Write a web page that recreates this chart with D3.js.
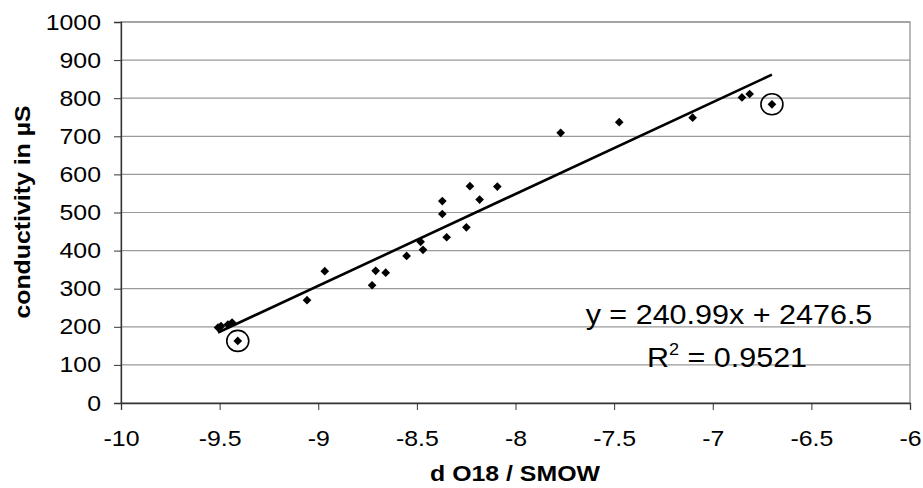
<!DOCTYPE html>
<html>
<head>
<meta charset="utf-8">
<script src="https://cdn.jsdelivr.net/npm/d3@7"></script>
<style>
  html, body { margin: 0; padding: 0; background: #fff; }
  svg { display: block; }
  text { font-family: "Liberation Sans", Arial, sans-serif; fill: #000; }
</style>
</head>
<body>
<svg id="chart" width="923" height="488"></svg>
<script>
// ---- data ----
const xValues = [-9.508, -9.493, -9.458, -9.437, -9.408, -9.057, -8.967, -8.727, -8.709, -8.658,
                 -8.552, -8.481, -8.469, -8.371, -8.371, -8.349, -8.249, -8.231, -8.182, -8.092,
                 -7.771, -7.474, -7.102, -6.852, -6.813, -6.700];
const yValues = [198, 202, 206, 211, 163, 270, 346, 309, 347, 342,
                 386, 423, 402, 530, 496, 435, 461, 569, 534, 568,
                 709, 737, 749, 802, 811, 784];
const circledIdx = [4, 25];
const xTicks = [-10, -9.5, -9, -8.5, -8, -7.5, -7, -6.5, -6];
const yTicks = [0, 100, 200, 300, 400, 500, 600, 700, 800, 900, 1000];
const slope = 240.99, intercept = 2476.5, r2 = 0.9521;
const xTitle = "d O18 / SMOW";
const yTitle = "conductivity in µS";

// ---- layout ----
const svg = d3.select("#chart");
const mLeft = 121, mRight = 910, mTop = 22, mBottom = 403;
const STRETCH = 1.13;
const x = d3.scaleLinear().domain([-10, -6]).range([mLeft, mRight]);
const y = d3.scaleLinear().domain([0, 1000]).range([mBottom, mTop]);

function stretch(sel) {
  sel.each(function() {
    const len = this.getComputedTextLength();
    d3.select(this).attr("textLength", len * STRETCH).attr("lengthAdjust", "spacingAndGlyphs");
  });
}

// gridlines
svg.append("g").selectAll("line").data(yTicks.filter(d => d > 0)).join("line")
  .attr("x1", mLeft).attr("x2", mRight)
  .attr("y1", d => y(d)).attr("y2", d => y(d))
  .attr("stroke", "#9a9a9a").attr("stroke-width", 1.2);

// plot border
svg.append("rect").attr("x", mLeft).attr("y", mTop)
  .attr("width", mRight - mLeft).attr("height", mBottom - mTop)
  .attr("fill", "none").attr("stroke", "#8a8a8a").attr("stroke-width", 1.2);

// axes
const yAxis = d3.axisLeft(y).tickValues(yTicks).tickSize(7).tickPadding(13).tickFormat(d3.format("d"));
const gy = svg.append("g").attr("transform", `translate(${mLeft},0)`).call(yAxis);
gy.select(".domain").attr("stroke", "#333").attr("stroke-width", 1.3);
gy.selectAll(".tick line").attr("stroke", "#333");
gy.selectAll(".tick text").attr("font-size", 22).attr("font-family", "Liberation Sans, Arial, sans-serif").attr("fill", "#000").call(stretch);

const xAxis = d3.axisBottom(x).tickValues(xTicks).tickSize(7).tickPadding(20).tickFormat(d => String(d));
const gx = svg.append("g").attr("transform", `translate(0,${mBottom})`).call(xAxis);
gx.select(".domain").attr("stroke", "#333").attr("stroke-width", 1.3);
gx.selectAll(".tick line").attr("stroke", "#333");
gx.selectAll(".tick text").attr("font-size", 22).attr("font-family", "Liberation Sans, Arial, sans-serif").attr("fill", "#000").call(stretch);

// trendline
const xMin = d3.min(xValues), xMax = d3.max(xValues);
svg.append("line")
  .attr("x1", x(xMin)).attr("y1", y(slope * xMin + intercept))
  .attr("x2", x(xMax)).attr("y2", y(slope * xMax + intercept))
  .attr("stroke", "#000").attr("stroke-width", 2.6);

// points (diamonds)
const pts = xValues.map((v, i) => ({x: v, y: yValues[i], i}));
svg.append("g").selectAll("path").data(pts).join("path")
  .attr("d", d3.symbol().type(d3.symbolDiamond2).size(48))
  .attr("transform", d => `translate(${x(d.x)},${y(d.y)})`)
  .attr("fill", "#000");

// circles around marked points
svg.append("g").selectAll("ellipse").data(circledIdx.map(i => pts[i])).join("ellipse")
  .attr("cx", d => x(d.x)).attr("cy", d => y(d.y))
  .attr("rx", 11).attr("ry", 10.5)
  .attr("fill", "none").attr("stroke", "#000").attr("stroke-width", 1.6);

// equation text
svg.append("text").attr("x", 729).attr("y", 324).attr("text-anchor", "middle")
  .attr("font-size", 27)
  .text(`y = ${slope}x + ${intercept}`).call(stretch);
const rt = svg.append("text").attr("x", 727).attr("y", 367).attr("text-anchor", "middle")
  .attr("font-size", 27);
rt.append("tspan").text("R");
rt.append("tspan").attr("font-size", 16).attr("dy", -12).text("2");
rt.append("tspan").attr("dy", 12).text(" = " + r2);
rt.call(stretch);

// axis titles
svg.append("text").attr("x", 515).attr("y", 481).attr("text-anchor", "middle")
  .attr("font-size", 22).attr("font-weight", "bold").text(xTitle).call(stretch);
svg.append("text").attr("transform", "translate(30,212) rotate(-90)").attr("text-anchor", "middle")
  .attr("font-size", 22).attr("font-weight", "bold")
  .text(yTitle).call(stretch);
</script>
</body>
</html>
